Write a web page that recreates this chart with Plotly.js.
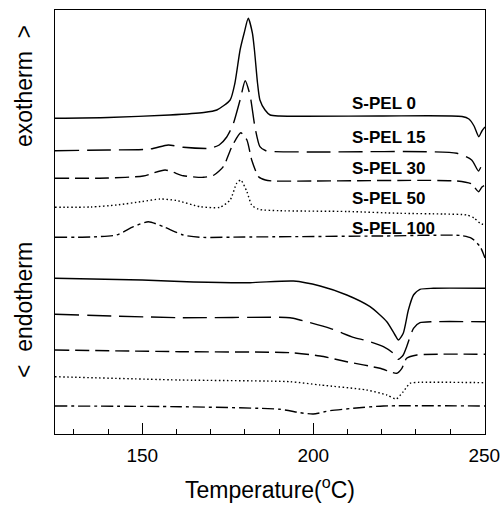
<!DOCTYPE html>
<html>
<head>
<meta charset="utf-8">
<script src="https://cdn.plot.ly/plotly-3.0.1.min.js"></script>
<style>html,body{margin:0;padding:0;background:#fff;}#chart{width:504px;height:506px;}</style>
</head>
<body>
<div id="chart"></div>
<script>
// Sample names
var samples = ["S-PEL 0", "S-PEL 15", "S-PEL 30", "S-PEL 50", "S-PEL 100"];

// Cooling (crystallization, exotherm) curves: temperature (°C) and offset heat-flow (a.u.)
var coolT0 = [124.5,140,158,168,171.8,175.7,177.1,178.6,179.8,181.0,182.2,182.8,183.7,184.4,185.9,187.4,190,220,243.5,245.5,247,248.4,249.3,250.2];
var coolV0 = [315.7,316.5,319,321.5,324,334,351,384,401,415.7,401,384,351,334,324,319,318,318,317.5,315,308,297.3,303,307];

var coolT15 = [124.5,140,152.3,157.6,162,169.8,172.5,174.7,176.5,178.6,180.1,181.5,183,184.4,186,188,200,242,246.3,248.3,249.3,250.2];
var coolV15 = [283.3,284,285,289,286.7,285.7,289,297,309,334,353.3,339,306,287.3,283.5,282.5,282,280.7,274,263,269,272.3];

var coolT30 = [124.5,140,150.3,156.7,162,167.9,171,173.7,176.2,178.8,180.6,182,184,186,188,200,242,246.3,248.3,249.3,250.2];
var coolV30 = [255.7,256,258,264,258.3,256.7,259,267.3,287.3,301.3,294,274,257.3,254,253,253,253,250,242.3,247,249];

var coolT50 = [124.5,135,142.5,150,155.2,160,166.9,172.7,175.7,177.6,178.8,180.6,182,184,190,210,225.4,238,244.9,247,248.8,250.2];
var coolV50 = [226.7,227,229,232.5,235,233.5,227.3,226.7,234,250.7,254,242.3,229,224.7,223.3,222.5,220.7,220,219,216,210.7,209];

var coolT100 = [124.5,135,142.5,147.4,151.8,156.2,162,166.9,180,220,243,246.3,248.8,250.2];
var coolV100 = [196.7,197,199,207.3,212.3,207.3,199,196.7,197,198,198.5,195.7,187.3,176];

// Heating (melting, endotherm) curves
var heatT0 = [124.5,150,165,181.5,194.2,202,209.8,216.6,221.5,223.9,224.9,226.3,227.8,229.3,231.2,235.1,250.2];
var heatV0 = [155.7,154,152,151.3,153,148,139,127.3,112.3,99,94,100.7,124,139,144.7,145.7,145.7];

var heatT15 = [124.5,161,193.2,196.1,204.9,211.7,215.6,220.5,223.4,224.9,226.3,227.3,229.3,231.2,235,250.2];
var heatV15 = [119.7,116.3,116.3,114,105.7,96.7,93.3,87.3,80.7,74.7,79,87.3,105.7,111.3,112.3,112.3];

var heatT30 = [124.5,161,193.2,202,209.8,219.5,224.4,225.9,227.3,230.3,250.2];
var heatV30 = [84,82.3,81.3,78,72.3,65.7,60.7,65.7,75.7,79,79.7];

var heatT50 = [124.5,161,193.2,202,215.6,221.5,224.2,226.3,228.3,231,250.2];
var heatV50 = [57.3,54,52.3,49,44,39,35,42.3,50.7,51.7,51.3];

var heatT100 = [124.5,161,190.3,196.1,200,204.9,211.7,220.5,250.2];
var heatV100 = [28,27.3,24.7,21.3,20,23.3,25.7,28,28];

// Tick labels
var xTicks = [150, 200, 250];
var yLabels = ["exotherm  >", "<  endotherm"];

var coolT = [coolT0, coolT15, coolT30, coolT50, coolT100];
var coolV = [coolV0, coolV15, coolV30, coolV50, coolV100];
var heatT = [heatT0, heatT15, heatT30, heatT50, heatT100];
var heatV = [heatV0, heatV15, heatV30, heatV50, heatV100];

var dashes = ["solid", "24px,8px", "14px,6px", "1.5px,2.5px", "12px,4px,3px,4px"];

var traces = [];
for (var i = 0; i < samples.length; i++) {
  traces.push({x: coolT[i], y: coolV[i], type: "scatter", mode: "lines", name: samples[i],
    line: {color: "#000", width: 1.4, dash: dashes[i], shape: "spline", smoothing: 0.6}, showlegend: false, hoverinfo: "skip"});
  traces.push({x: heatT[i], y: heatV[i], type: "scatter", mode: "lines", name: samples[i],
    line: {color: "#000", width: 1.4, dash: dashes[i], shape: "spline", smoothing: 0.6}, showlegend: false, hoverinfo: "skip"});
}

var labelY = [331, 297, 266, 236, 206];
var annotations = [];
for (var j = 0; j < samples.length; j++) {
  annotations.push({x: 210.8, y: labelY[j], xref: "x", yref: "y", text: "<b>" + samples[j] + "</b>",
    showarrow: false, xanchor: "left", yanchor: "middle",
    font: {family: "Arial, Liberation Sans, sans-serif", size: 17, color: "#000"}});
}
annotations.push({x: -0.072, y: 348, xref: "paper", yref: "y", text: yLabels[0], textangle: -90,
  showarrow: false, xanchor: "center", yanchor: "middle",
  font: {family: "Arial, Liberation Sans, sans-serif", size: 23, color: "#000"}});
annotations.push({x: -0.072, y: 124, xref: "paper", yref: "y", text: yLabels[1], textangle: -90,
  showarrow: false, xanchor: "center", yanchor: "middle",
  font: {family: "Arial, Liberation Sans, sans-serif", size: 23, color: "#000"}});

var layout = {
  width: 504, height: 506,
  margin: {l: 55, r: 19, t: 10, b: 72, pad: 0},
  paper_bgcolor: "#fff", plot_bgcolor: "#fff",
  font: {family: "Arial, Liberation Sans, sans-serif", color: "#000"},
  xaxis: {
    range: [124.5, 250.2], showline: true, linecolor: "#000", linewidth: 1.2, mirror: true,
    showgrid: false, zeroline: false,
    tickmode: "array", tickvals: xTicks, ticktext: xTicks.map(String),
    ticks: "inside", ticklen: 11, tickwidth: 1, tickcolor: "#000",
    minor: {tick0: 0, dtick: 10, ticks: "inside", ticklen: 5, tickwidth: 1, tickcolor: "#000", showgrid: false},
    tickfont: {size: 19, color: "#000"},
    ticklabelstandoff: 4,
    title: {text: "Temperature(<sup>o</sup>C)", font: {size: 23, color: "#000"}, standoff: 16}
  },
  yaxis: {
    range: [0, 424], showline: true, linecolor: "#000", linewidth: 1.2, mirror: true,
    showgrid: false, zeroline: false, ticks: "", showticklabels: false
  },
  annotations: annotations
};

Plotly.newPlot("chart", traces, layout, {displayModeBar: false, staticPlot: true});
</script>
</body>
</html>
